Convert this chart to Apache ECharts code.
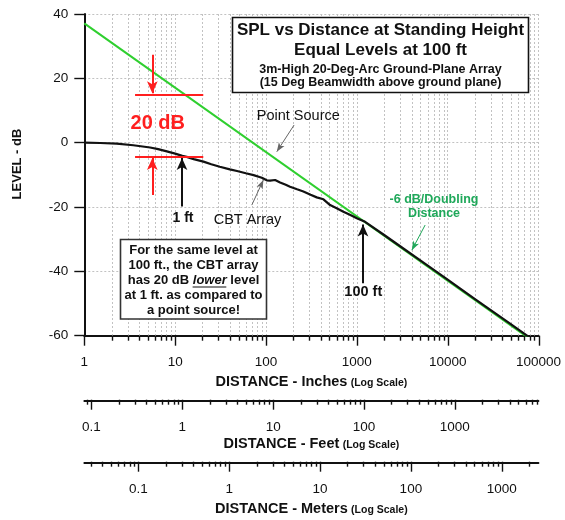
<!DOCTYPE html>
<html><head><meta charset="utf-8">
<script src="https://cdn.jsdelivr.net/npm/echarts@6/dist/echarts.min.js"></script>
<style>html,body{margin:0;padding:0;background:#fff}#c{width:565px;height:520px}</style>
</head><body><div id="c"></div>
<script>
// ---------- data ----------
const inchRange = [1, 100000];
const levelRange = [-60, 40];
const levelStep = 20;
const INCH_PER_FOOT = 12;
const INCH_PER_METER = 39.37;
const inchTickLabels = [1, 10, 100, 1000, 10000, 100000];
const feetTickLabels = [0.1, 1, 10, 100, 1000];
const meterTickLabels = [0.1, 1, 10, 100, 1000];

const pointSourceInches = [1, 100000];
const pointSourceLevel = [37.1, -62.9];

const cbtInches = [1, 1.5, 2.27, 3.46, 5.3, 6.5, 8.1, 10, 12, 13.4, 16, 20.5, 25, 31, 40, 48, 60, 73, 90,
  102, 111, 126, 143, 165, 184, 220, 258, 310, 362, 429, 508, 600, 712, 850, 1000, 1233, 2000, 3000,
  5000, 10000, 20000, 50000, 100000];
const cbtLevel = [0, -0.1, -0.3, -0.8, -1.5, -2.0, -2.7, -3.4, -4.1, -4.4, -5.1, -5.9, -6.7, -7.5, -8.3, -8.8, -9.5, -10.1, -10.9,
  -11.7, -11.8, -11.6, -12.4, -13.1, -13.7, -14.5, -15.2, -16.2, -17.0, -17.6, -19.4, -20.4, -21.5, -22.5, -23.5, -24.6, -28.7, -32.2,
  -36.6, -42.6, -48.6, -56.5, -62.5];

// ---------- helpers ----------
const FONT = '"Liberation Sans", Arial, Helvetica, sans-serif';
const INK = '#111';
const GRID_C = '#c2c2c2';
const RED = '#ff1f1f';
const GREEN = '#2fcf2f';
const DGREEN = '#1fa85a';

function decadeMarks(lo, hi) {
  const out = [];
  for (let e = -3; e <= 6; e++) for (let m = 1; m <= 9; m++) {
    const v = +(m * Math.pow(10, e)).toPrecision(6);
    if (v >= lo * 0.999999 && v <= hi * 1.000001) out.push([v, m === 1 ? 1 : 0]);
  }
  return out;
}
function labelFmt(list) {
  return function (v) {
    for (const l of list) if (Math.abs(v / l - 1) < 1e-6) return String(l);
    return '';
  };
}
function tickSeries(xi, yi, marks, yBase) {
  return {
    type: 'custom', xAxisIndex: xi, yAxisIndex: yi, silent: true, animation: false, clip: false, z: 6,
    data: marks, encode: { x: 0 },
    renderItem(params, api) {
      const p = api.coord([api.value(0), yBase]);
      const x = Math.round(p[0]) + 0.5;
      const len = api.value(1) ? 10 : 5;
      return { type: 'line', shape: { x1: x, y1: p[1], x2: x, y2: p[1] + len },
        style: { stroke: INK, lineWidth: 1.4 } };
    }
  };
}
function axisName(main) {
  return '{a|DISTANCE - ' + main + '} {b|(Log Scale)}';
}
const nameStyle = {
  color: INK,
  rich: { a: { fontSize: 14.5, fontWeight: 'bold', fontFamily: FONT, color: INK },
          b: { fontSize: 10.5, fontWeight: 'bold', fontFamily: FONT, color: INK, padding: [2, 0, 0, 0] } }
};
function secondaryX(gi, min, max, labels, name, gap) {
  return {
    type: 'log', gridIndex: gi, min: min, max: max, logBase: 10,
    axisLine: { show: true, onZero: false, lineStyle: { color: INK, width: 1.8 } },
    axisTick: { show: false }, splitLine: { show: false }, minorTick: { show: false },
    axisLabel: { formatter: labelFmt(labels), margin: 20, fontSize: 13.5, color: INK, fontFamily: FONT,
      showMinLabel: false, showMaxLabel: false },
    name: name, nameLocation: 'middle', nameGap: gap, nameTextStyle: nameStyle
  };
}

const allInchMarks = decadeMarks(inchRange[0], inchRange[1]);
const minorInchMarks = allInchMarks.filter(d => !d[1]);
const feetMarks = decadeMarks(inchRange[0] / INCH_PER_FOOT, inchRange[1] / INCH_PER_FOOT);
const meterMarks = decadeMarks(inchRange[0] / INCH_PER_METER, inchRange[1] / INCH_PER_METER);

const chart = echarts.init(document.getElementById('c'), null, { renderer: 'canvas' });

function arrowLine(from, to, color, width, size, bothNone) {
  return [
    { coord: from, symbol: 'none', lineStyle: { color: color, width: width, type: 'solid' } },
    { coord: to, symbol: bothNone ? 'none' : 'arrow', symbolSize: size }
  ];
}

const option = {
  animation: false,
  backgroundColor: '#ffffff',
  textStyle: { fontFamily: FONT },
  grid: [
    { left: 84.3, top: 14, width: 454.2, height: 321.7, outerBoundsMode: 'none', containLabel: false },
    { left: 84.3, top: 399.7, width: 454.2, height: 1, outerBoundsMode: 'none', containLabel: false },
    { left: 84.3, top: 461.7, width: 454.2, height: 1, outerBoundsMode: 'none', containLabel: false }
  ],
  xAxis: [
    {
      type: 'log', gridIndex: 0, min: inchRange[0], max: inchRange[1], logBase: 10,
      axisLine: { show: true, onZero: false, lineStyle: { color: INK, width: 2 } },
      axisTick: { show: false }, minorTick: { show: false },
      splitLine: { show: true, lineStyle: { color: GRID_C, width: 1, type: [2, 2] } },
      axisLabel: { formatter: labelFmt(inchTickLabels), margin: 20, fontSize: 13.5, color: INK, fontFamily: FONT },
      name: axisName('Inches'), nameLocation: 'middle', nameGap: 33, nameTextStyle: nameStyle
    },
    secondaryX(1, inchRange[0] / INCH_PER_FOOT, inchRange[1] / INCH_PER_FOOT, feetTickLabels, axisName('Feet'), 36),
    secondaryX(2, inchRange[0] / INCH_PER_METER, inchRange[1] / INCH_PER_METER, meterTickLabels, axisName('Meters'), 39)
  ],
  yAxis: [
    {
      type: 'value', gridIndex: 0, min: levelRange[0], max: levelRange[1], interval: levelStep,
      axisLine: { show: true, onZero: false, lineStyle: { color: INK, width: 2 } },
      axisTick: { show: true, length: 10, lineStyle: { color: INK, width: 1.4 } },
      splitLine: { show: true, lineStyle: { color: GRID_C, width: 1, type: [2, 2] } },
      axisLabel: { margin: 16, fontSize: 13.5, color: INK, fontFamily: FONT }
    },
    { type: 'value', gridIndex: 1, min: 0, max: 1, show: false },
    { type: 'value', gridIndex: 2, min: 0, max: 1, show: false }
  ],
  series: [
    {
      type: 'custom', xAxisIndex: 0, yAxisIndex: 0, silent: true, z: 1, clip: false,
      data: minorInchMarks, encode: { x: 0 },
      renderItem(params, api) {
        const a = api.coord([api.value(0), levelRange[1]]);
        const b = api.coord([api.value(0), levelRange[0]]);
        const x = Math.round(a[0]) + 0.5;
        return { type: 'line', shape: { x1: x, y1: a[1], x2: x, y2: b[1] },
          style: { stroke: GRID_C, lineWidth: 1, lineDash: [2, 2] } };
      }
    },
    tickSeries(0, 0, allInchMarks, levelRange[0]),
    tickSeries(1, 1, feetMarks, 1),
    tickSeries(2, 2, meterMarks, 1),
    {
      name: 'Point Source', type: 'line', xAxisIndex: 0, yAxisIndex: 0, z: 3,
      data: pointSourceInches.map((x, i) => [x, pointSourceLevel[i]]),
      showSymbol: false, symbol: 'none', clip: true, silent: true,
      lineStyle: { color: GREEN, width: 2 }
    },
    {
      name: 'CBT Array', type: 'line', xAxisIndex: 0, yAxisIndex: 0, z: 4,
      data: cbtInches.map((x, i) => [x, cbtLevel[i]]),
      showSymbol: false, symbol: 'none', clip: true, silent: true,
      lineStyle: { color: INK, width: 2.2 },
      markLine: {
        silent: true, animation: false, label: { show: false }, emphasis: { disabled: true },
        symbol: ['none', 'none'],
        data: [
          arrowLine([3.62, 15.05], [20.4, 15.05], RED, 2, 0, true),
          arrowLine([3.62, -4.45], [20.4, -4.45], RED, 2, 0, true),
          arrowLine([5.61, 27.3], [5.61, 15.4], RED, 2, [8, 12]),
          arrowLine([5.61, -16.3], [5.61, -4.8], RED, 2, [8, 12]),
          arrowLine([11.9, -19.8], [11.9, -4.8], INK, 2, [8, 12]),
          arrowLine([1170, -43.7], [1170, -25.4], INK, 2, [8, 12]),
          arrowLine([69.8, -19.4], [93.6, -11.6], '#666', 1, [5, 9]),
          arrowLine([204, 5.5], [131.5, -2.8], '#666', 1, [5, 9]),
          arrowLine([5650, -25.6], [4035, -33.4], DGREEN, 1, [5, 9])
        ]
      }
    }
  ],
  graphic: [
    { type: 'rect', z: 50, shape: { x: 232.5, y: 17.5, width: 296, height: 75 },
      style: { fill: '#fff', stroke: INK, lineWidth: 1.6 } },
    { type: 'text', z: 51, x: 380.5, y: 30.7, style: { text: 'SPL vs Distance at Standing Height', fontSize: 17, fontWeight: 'bold', fontFamily: FONT, fill: INK, textAlign: 'center', textVerticalAlign: 'middle' } },
    { type: 'text', z: 51, x: 380.5, y: 50, style: { text: 'Equal Levels at 100 ft', fontSize: 17, fontWeight: 'bold', fontFamily: FONT, fill: INK, textAlign: 'center', textVerticalAlign: 'middle' } },
    { type: 'text', z: 51, x: 380.5, y: 69.3, style: { text: '3m-High 20-Deg-Arc Ground-Plane Array', fontSize: 12.5, fontWeight: 'bold', fontFamily: FONT, fill: INK, textAlign: 'center', textVerticalAlign: 'middle' } },
    { type: 'text', z: 51, x: 380.5, y: 82.7, style: { text: '(15 Deg Beamwidth above ground plane)', fontSize: 12.5, fontWeight: 'bold', fontFamily: FONT, fill: INK, textAlign: 'center', textVerticalAlign: 'middle' } },

    { type: 'rect', z: 50, shape: { x: 120.5, y: 239.5, width: 146, height: 79.5 },
      style: { fill: '#fff', stroke: '#333', lineWidth: 1.6 } },
    { type: 'text', z: 51, x: 193.5, y: 280, style: {
      text: 'For the same level at\n100 ft., the CBT array\nhas 20 dB {i|lower} level\nat 1 ft. as compared to\na point source!',
      rich: { i: { fontStyle: 'italic', fontWeight: 'bold', fontSize: 13, fontFamily: FONT, fill: INK, lineHeight: 15 } },
      fontSize: 13, lineHeight: 15, fontWeight: 'bold', fontFamily: FONT, fill: INK, textAlign: 'center', textVerticalAlign: 'middle' } },
    { type: 'line', z: 51, shape: { x1: 192.6, y1: 287, x2: 226.3, y2: 287 }, style: { stroke: INK, lineWidth: 1.2 } },

    { type: 'text', z: 51, x: 157.8, y: 123.3, style: { text: '20 dB', fontSize: 20, fontWeight: 'bold', fontFamily: FONT, fill: RED, textAlign: 'center', textVerticalAlign: 'middle' } },
    { type: 'text', z: 51, x: 298.3, y: 116, style: { text: 'Point Source', fontSize: 14.5, fontFamily: FONT, fill: INK, textAlign: 'center', textVerticalAlign: 'middle' } },
    { type: 'text', z: 51, x: 247.5, y: 220, style: { text: 'CBT Array', fontSize: 14.5, fontFamily: FONT, fill: INK, textAlign: 'center', textVerticalAlign: 'middle' } },
    { type: 'text', z: 51, x: 183, y: 217.7, style: { text: '1 ft', fontSize: 14, fontWeight: 'bold', fontFamily: FONT, fill: INK, textAlign: 'center', textVerticalAlign: 'middle' } },
    { type: 'text', z: 51, x: 363.3, y: 291.7, style: { text: '100 ft', fontSize: 14.5, fontWeight: 'bold', fontFamily: FONT, fill: INK, textAlign: 'center', textVerticalAlign: 'middle' } },
    { type: 'text', z: 51, x: 434, y: 206.3, style: { text: '-6 dB/Doubling\nDistance', fontSize: 12.5, lineHeight: 14, fontWeight: 'bold', fontFamily: FONT, fill: DGREEN, textAlign: 'center', textVerticalAlign: 'middle' } },
    { type: 'text', z: 51, x: 17.5, y: 164, rotation: Math.PI / 2, style: { text: 'LEVEL - dB', fontSize: 13, fontWeight: 'bold', fontFamily: FONT, fill: INK, textAlign: 'center', textVerticalAlign: 'middle' } }
  ]
};
chart.setOption(option);
</script>
</body></html>
